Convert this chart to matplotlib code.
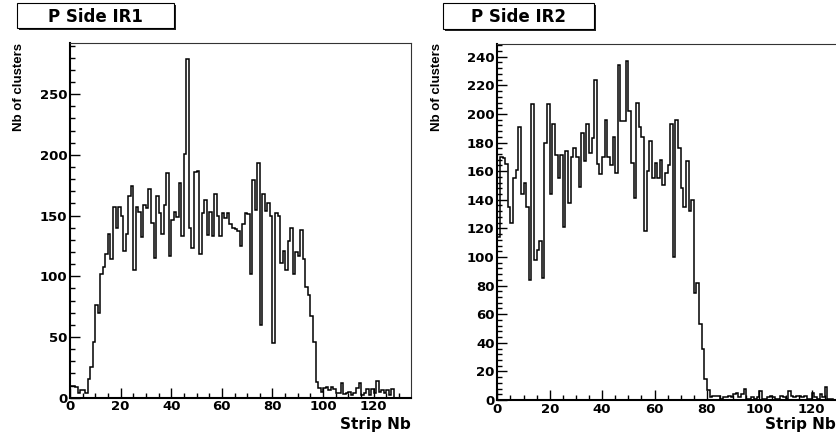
import numpy as np
import matplotlib.pyplot as plt
from matplotlib.patches import Rectangle
from matplotlib.ticker import MultipleLocator

# cluster counts per strip, 128 strips each
ir1_counts = [10, 10, 9, 4, 6, 6, 4, 15, 25, 46,
              76, 70, 102, 108, 118, 135, 114, 157, 140, 157,
              150, 121, 135, 166, 174, 105, 157, 153, 132, 159,
              156, 172, 144, 115, 166, 152, 135, 159, 185, 117,
              146, 153, 149, 177, 133, 201, 279, 140, 123, 186,
              187, 118, 152, 163, 134, 153, 133, 168, 150, 133,
              152, 148, 152, 143, 140, 139, 137, 125, 143, 152,
              151, 102, 179, 155, 193, 60, 168, 154, 160, 150,
              45, 152, 150, 111, 121, 105, 129, 140, 102, 120,
              117, 138, 114, 91, 85, 67, 46, 13, 8, 5,
              8, 9, 6, 9, 7, 4, 4, 12, 3, 4,
              5, 2, 4, 8, 12, 2, 4, 7, 2, 7,
              4, 14, 5, 6, 4, 6, 2, 7]

ir2_counts = [114, 170, 169, 165, 135, 124, 155, 161, 191, 144,
              152, 135, 84, 207, 98, 105, 111, 85, 180, 207,
              144, 193, 171, 155, 171, 121, 174, 138, 170, 176,
              170, 149, 187, 167, 193, 173, 183, 224, 165, 158,
              170, 196, 170, 164, 184, 159, 234, 195, 195, 237,
              202, 166, 141, 208, 191, 184, 118, 160, 181, 155,
              166, 155, 168, 150, 159, 164, 193, 100, 196, 176,
              148, 135, 167, 132, 140, 75, 82, 53, 36, 15,
              7, 2, 3, 3, 3, 1, 2, 2, 3, 2,
              4, 5, 2, 4, 8, 1, 1, 2, 1, 2,
              6, 1, 1, 2, 3, 2, 1, 1, 3, 2,
              1, 6, 3, 2, 3, 3, 2, 3, 1, 1,
              5, 2, 1, 4, 2, 9, 1, 1]

titles = ['P Side IR1', 'P Side IR2']
edges = np.arange(len(ir1_counts) + 1)

plt.rcParams['font.family'] = 'DejaVu Sans'
plt.rcParams['font.weight'] = 'bold'

W, H = 837, 432
fig = plt.figure(figsize=(W / 100, H / 100), dpi=100)


def px_axes(x0, y0, x1, y1):
    return fig.add_axes([x0 / W, 1 - y1 / H, (x1 - x0) / W, (y1 - y0) / H])


def title_box(x0, y0, x1, y1, text):
    sh = 2
    fig.add_artist(Rectangle(((x0 + sh) / W, 1 - (y1 + sh) / H), (x1 - x0) / W, (y1 - y0) / H,
                             transform=fig.transFigure, facecolor='#222222', edgecolor='none'))
    fig.add_artist(Rectangle((x0 / W, 1 - y1 / H), (x1 - x0) / W, (y1 - y0) / H,
                             transform=fig.transFigure, facecolor='white', edgecolor='black', lw=0.8))
    fig.text((x0 + x1) / 2 / W, 1 - 22.5 / H, text, ha='center', va='baseline',
             fontsize=12, fontweight='bold')


panels = [
    dict(counts=ir1_counts, box=(70, 42.7, 410.7, 397.7), xmax=134.6, ymax=292.4,
         major=50, minor=10, title=(17, 3, 174, 28), ylab_x=19, xlab_x=411),
    dict(counts=ir2_counts, box=(497.3, 44.3, 850, 400), xmax=134.6, ymax=248.7,
         major=20, minor=4, title=(443, 3, 594, 29), ylab_x=437, xlab_x=836),
]

for p, title in zip(panels, titles):
    ax = px_axes(*p['box'])
    ax.stairs(p['counts'], edges, color='black', lw=1.1)
    ax.set_xlim(0, p['xmax'])
    ax.set_ylim(0, p['ymax'])
    ax.xaxis.set_major_locator(MultipleLocator(20))
    ax.xaxis.set_minor_locator(MultipleLocator(5))
    ax.yaxis.set_major_locator(MultipleLocator(p['major']))
    ax.yaxis.set_minor_locator(MultipleLocator(p['minor']))
    ax.tick_params(which='both', direction='in', top=False, right=False,
                   labelsize=9.5, pad=2, width=1)
    ax.tick_params(which='major', length=7)
    ax.tick_params(which='minor', length=3.5)
    for lbl in ax.get_xticklabels() + ax.get_yticklabels():
        lbl.set_fontweight('bold')
    for s in ['left', 'bottom']:
        ax.spines[s].set_linewidth(1.5)
    for s in ['top', 'right']:
        ax.spines[s].set_linewidth(0.8)
        ax.spines[s].set_color('#333333')

    title_box(*p['title'], title)
    fig.text(p['ylab_x'] / W, 1 - 43 / H, 'Nb of clusters', rotation=90,
             ha='center', va='top', fontsize=9.5, fontweight='bold',
             family=['Liberation Sans', 'DejaVu Sans'])
    fig.text(p['xlab_x'] / W, 1 - 424 / H, 'Strip Nb', ha='right', va='center',
             fontsize=11, fontweight='bold')

fig.savefig('out.png', dpi=100)
